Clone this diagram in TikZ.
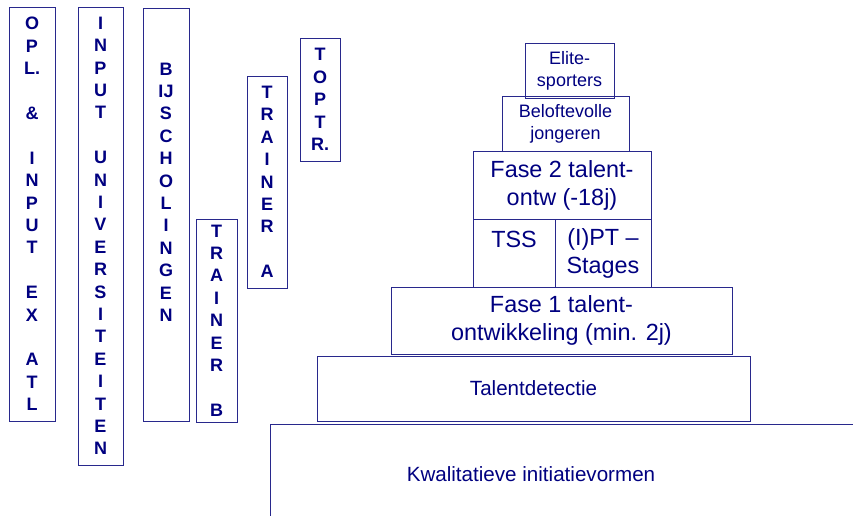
\documentclass[tikz,border=0pt]{standalone}
\usepackage{fontspec}
\setmainfont{Liberation Sans}
\usetikzlibrary{positioning}
\definecolor{slidenavy}{RGB}{0,0,128}
\definecolor{slideline}{RGB}{40,40,140}
\tikzset{
    tier/.style={draw=slideline, line width=0.8pt, text=slidenavy, inner sep=0pt, outer sep=0pt, align=center},
    pillar/.style={tier, font=\fontsize{18}{22.4}\selectfont\bfseries},
    smalltier/.style={tier, font=\fontsize{18}{22}\selectfont},
    bigtier/.style={tier, font=\fontsize{23.4}{28}\selectfont},
    basetier/.style={tier, font=\fontsize{20.6}{24}\selectfont}
}

\begin{document}
\begin{tikzpicture}[x=1pt,y=-1pt]
            \useasboundingbox (0,0) rectangle (853,516);
            \clip (0,0) rectangle (853,516);
            \node[pillar, minimum width=46pt, minimum height=414pt] (opl) at (32,214) {O\\P\\L.\\ \\\&\\ \\I\\N\\P\\U\\T\\ \\E\\X\\ \\A\\T\\L};
            \node[pillar, minimum width=45pt, minimum height=458pt] (univ) at (100.5,236) {I\\N\\P\\U\\T\\ \\U\\N\\I\\V\\E\\R\\S\\I\\T\\E\\I\\T\\E\\N};
            \node[pillar, minimum width=46pt, minimum height=413pt] (bijsch) at (166,214.5) {B\\IJ\\S\\C\\H\\O\\L\\I\\N\\G\\E\\N\\\phantom{N}\\\phantom{N}};
            \node[pillar, minimum width=41pt, minimum height=203pt] (trainb) at (216.5,320.5) {T\\R\\A\\I\\N\\E\\R\\ \\B};
            \node[pillar, minimum width=40pt, minimum height=212pt] (traina) at (267,182) {T\\R\\A\\I\\N\\E\\R\\ \\A};
            \node[pillar, minimum width=40pt, minimum height=123pt] (toptr) at (320,99.5) {T\\O\\P\\T\\R.};

            \node[tier, minimum width=630pt, minimum height=136pt, anchor=north west] (initiatie) at (270,424) {};
            \node[basetier, draw=none] (initlabel) at (531,474) {Kwalitatieve initiatievormen};
            \node[basetier, minimum width=433pt, minimum height=65pt] (detect) at (533.5,388.5) {Talentdetectie};
            \node[bigtier, minimum width=341pt, minimum height=67pt, above=2pt of detect, xshift=28pt] (fase1) {Fase 1 talent-\\ontwikkeling (min. 2j)};
            \node[bigtier, minimum width=82pt, minimum height=68pt, above=0pt of fase1, xshift=-47.5pt] (tss) {TSS\\\phantom{S}};
            \node[bigtier, minimum width=96pt, minimum height=68pt, right=0pt of tss] (ipt) {(I)PT –\\Stages};
            \node[bigtier, minimum width=178pt, minimum height=68pt, above=0pt of tss.north west, anchor=south west] (fase2) {Fase 2 talent-\\ontw (-18j)};
            \node[smalltier, minimum width=127pt, minimum height=55pt, above=0pt of fase2, xshift=3.5pt] (belofte) {Beloftevolle\\jongeren};
            \node[smalltier, minimum width=89pt, minimum height=55pt, above=-2pt of belofte, xshift=4pt] (elite) {Elite-\\sporters};
\end{tikzpicture}
\end{document}
